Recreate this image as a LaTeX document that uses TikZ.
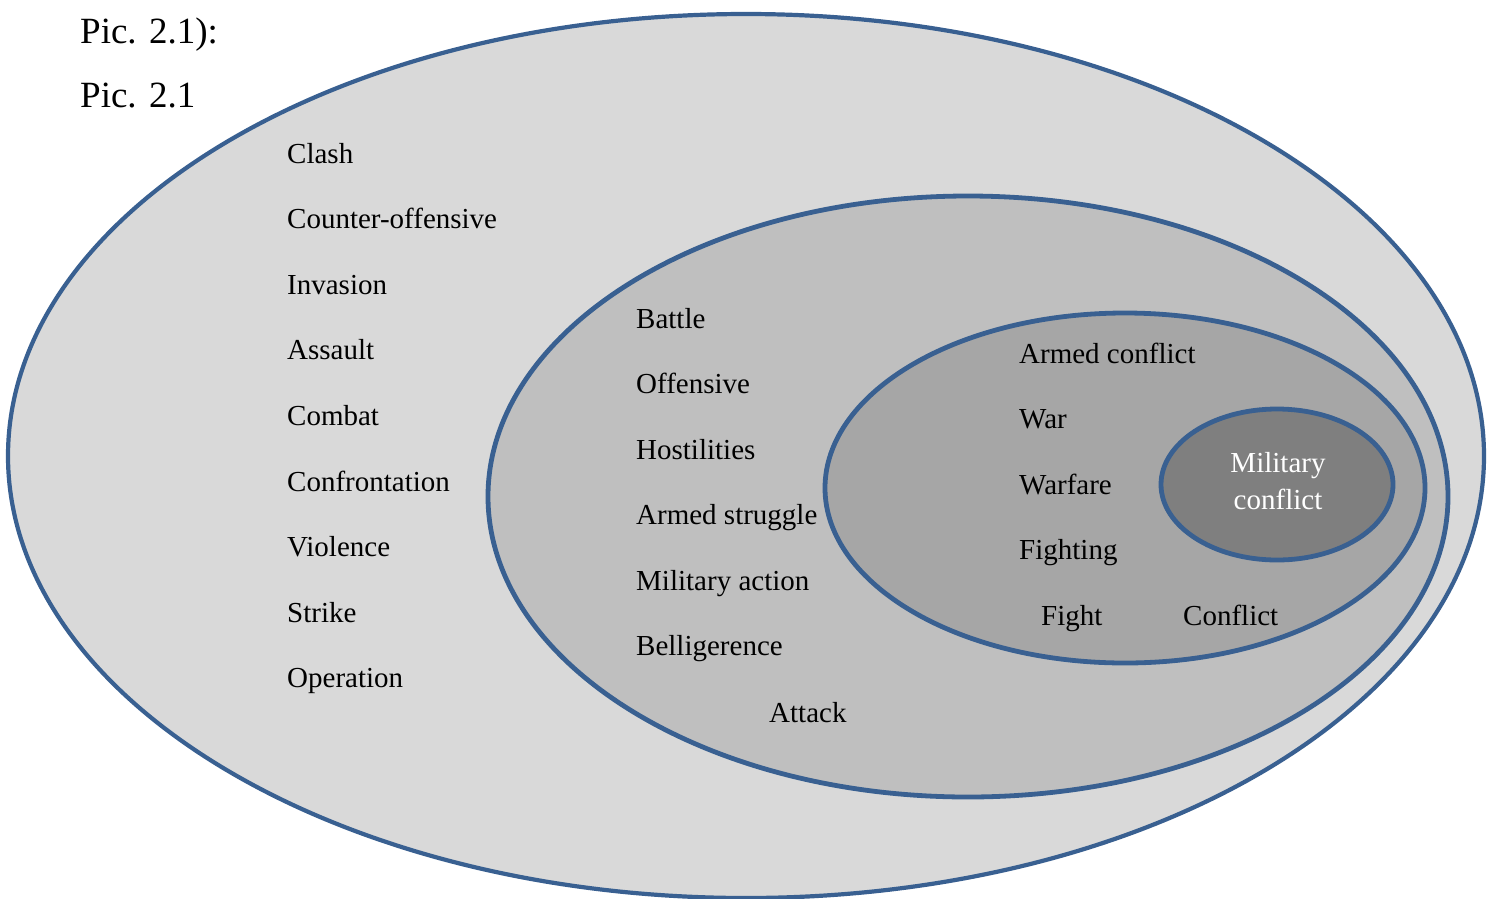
\documentclass[tikz,border=0pt]{standalone}
\usepackage{fontspec}
\setmainfont{Liberation Serif}
\begin{document}
\begin{tikzpicture}[x=1pt,y=-1pt,
  ring/.style={draw=ringblue,line width=4.8pt},
  word/.style={anchor=base west,inner sep=0pt,font=\fontsize{29}{35}\selectfont,text=black},
  title/.style={anchor=base west,inner sep=0pt,font=\fontsize{37}{44}\selectfont,text=black},
  core/.style={anchor=base,inner sep=0pt,font=\fontsize{29}{37}\selectfont,text=white}]
\definecolor{ringblue}{RGB}{57,96,145}
\definecolor{shadeA}{RGB}{217,217,217}
\definecolor{shadeB}{RGB}{191,191,191}
\definecolor{shadeC}{RGB}{166,166,166}
\definecolor{shadeD}{RGB}{127,127,127}
\useasboundingbox (0,0) rectangle (1488,898);
\begin{scope}
\clip (0,0) rectangle (1488,898);
% nested sets, from the widest to the narrowest
\fill[white] (0,0) rectangle (1488,898);
\draw[ring,line width=4.2pt,fill=shadeA] (746,456) ellipse [x radius=738, y radius=442];
\draw[ring,fill=shadeB] (968,496.5) ellipse [x radius=480, y radius=300.5];
\draw[ring,fill=shadeC] (1125,488) ellipse [x radius=300, y radius=175];
\draw[ring,fill=shadeD] (1277,484.5) ellipse [x radius=116, y radius=75.5];
\end{scope}
% caption lines
\node[title] (cap1) at (80,43) {Pic. 2.1):};
\node[title] (cap2) at (80,107) {Pic. 2.1};
% outer set
\node[word] (w1) at (287,163) {Clash};
\node[word] (w2) at (287,228.6) {Counter-offensive};
\node[word] (w3) at (287,294.2) {Invasion};
\node[word] (w4) at (287,359.8) {Assault};
\node[word] (w5) at (287,425.4) {Combat};
\node[word] (w6) at (287,491) {Confrontation};
\node[word] (w7) at (287,556.6) {Violence};
\node[word] (w8) at (287,622.2) {Strike};
\node[word] (w9) at (287,687.8) {Operation};
% second set
\node[word] (b1) at (636,328) {Battle};
\node[word] (b2) at (636,393.5) {Offensive};
\node[word] (b3) at (636,459) {Hostilities};
\node[word] (b4) at (636,524.5) {Armed struggle};
\node[word] (b5) at (636,590) {Military action};
\node[word] (b6) at (636,655.5) {Belligerence};
\node[word] (b7) at (769,722) {Attack};
% third set
\node[word] (c1) at (1019,363) {Armed conflict};
\node[word] (c2) at (1019,428.5) {War};
\node[word] (c3) at (1019,494) {Warfare};
\node[word] (c4) at (1019,559.5) {Fighting};
\node[word] (c5) at (1041,625) {Fight};
\node[word] (c6) at (1183,625) {Conflict};
% core
\node[core] (m1) at (1278,472) {Military};
\node[core] (m2) at (1278,509) {conflict};
\end{tikzpicture}
\end{document}
